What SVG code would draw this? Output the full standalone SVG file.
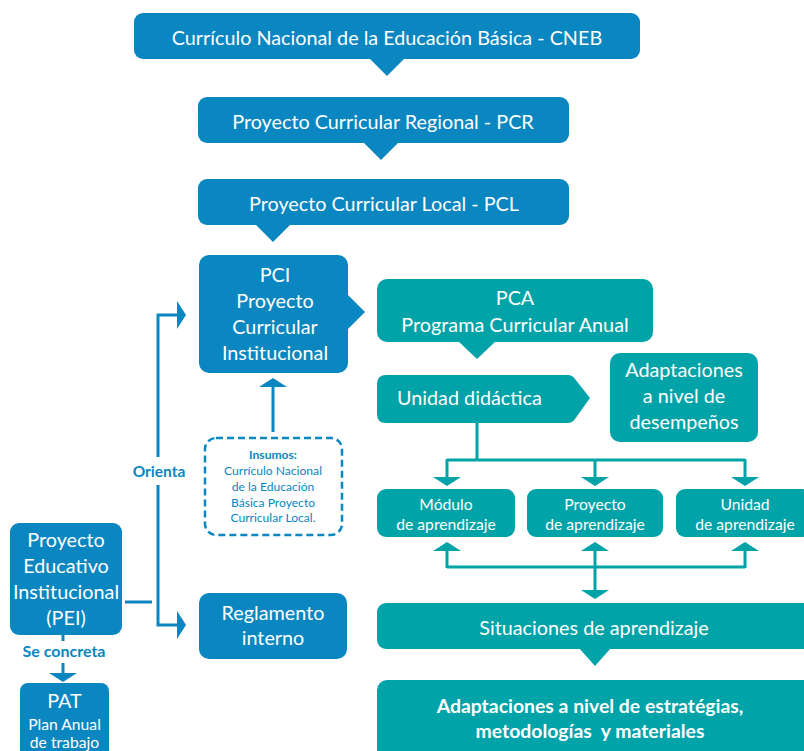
<svg xmlns="http://www.w3.org/2000/svg" width="804" height="751" viewBox="0 0 804 751">
<style>
.b{fill:#0A86C0}
.t{fill:#00A3A8}
.tx{fill:#fff;font-family:Lato,"Open Sans",sans-serif;font-size:19.8px;text-anchor:middle}
.sm{font-size:15.7px}
.bd{font-weight:bold}
.lb{fill:none;stroke:#0A86C0;stroke-width:3}
.lt{fill:none;stroke:#00A3A8;stroke-width:3}
.bl{fill:#0A86C0;font-family:Lato,"Open Sans",sans-serif;text-anchor:middle}
.ins{font-size:12.1px}
</style>
<defs>
<marker id="ab" markerUnits="userSpaceOnUse" markerWidth="10" markerHeight="28" refX="0" refY="14" orient="auto"><path d="M0,0 L9,14 L0,28 z" fill="#0A86C0"/></marker>
<marker id="at" markerUnits="userSpaceOnUse" markerWidth="10" markerHeight="28" refX="0" refY="14" orient="auto"><path d="M0,0 L9,14 L0,28 z" fill="#00A3A8"/></marker>
</defs>
<rect width="804" height="751" fill="#fff"/>
<g id="connectors">
<path class="lb" d="M273,432 V387" marker-end="url(#ab)"/>
<path class="lb" d="M158,457 V315 H177" marker-end="url(#ab)"/>
<path class="lb" d="M158,485 V625 H177" marker-end="url(#ab)"/>
<path class="lb" d="M125,602 H152"/>
<path class="lb" d="M63,635 V641"/>
<path class="lb" d="M63,663 V673" marker-end="url(#ab)"/>
<path class="lt" d="M477,423 V460 M447,460 H745"/>
<path class="lt" d="M447,459 V477" marker-end="url(#at)"/>
<path class="lt" d="M595,459 V477" marker-end="url(#at)"/>
<path class="lt" d="M745,459 V477" marker-end="url(#at)"/>
<path class="lt" d="M447,568 V551" marker-end="url(#at)"/>
<path class="lt" d="M745,568 V551" marker-end="url(#at)"/>
<path class="lt" d="M447,567 H745 M595,567 V551" marker-end="url(#at)"/>
<path class="lt" d="M595,567 V590" marker-end="url(#at)"/>
<text class="bl bd" x="159" y="477" font-size="15.5">Orienta</text>
<text class="bl bd" x="64" y="657" font-size="16">Se concreta</text>
</g>
<g id="cneb">
<rect class="b" x="134" y="13" width="506" height="46" rx="9"/>
<polygon class="b" points="369,58 405,58 387,76"/>
<text class="tx" x="387" y="45">Currículo Nacional de la Educación Básica - CNEB</text>
</g>
<g id="pcr">
<rect class="b" x="198" y="97" width="371" height="46" rx="9"/>
<polygon class="b" points="363,142 399,142 381,160"/>
<text class="tx" x="383" y="129">Proyecto Curricular Regional - PCR</text>
</g>
<g id="pcl">
<rect class="b" x="198" y="179" width="371" height="46" rx="9"/>
<polygon class="b" points="255,224 291,224 273,242"/>
<text class="tx" x="384" y="211">Proyecto Curricular Local - PCL</text>
</g>
<g id="pci">
<rect class="b" x="199" y="255" width="149" height="118" rx="10"/>
<polygon class="b" points="346,293 365,312 346,331"/>
<text class="tx" x="275" y="282">PCI</text>
<text class="tx" x="275" y="308">Proyecto</text>
<text class="tx" x="275" y="334">Curricular</text>
<text class="tx" x="275" y="360">Institucional</text>
</g>
<g id="insumos">
<rect x="205" y="438" width="137" height="97" rx="11" fill="none" stroke="#0A86C0" stroke-width="2.5" stroke-dasharray="7,4"/>
<text class="bl bd ins" x="273" y="459">Insumos:</text>
<text class="bl ins" x="273" y="475">Currículo Nacional</text>
<text class="bl ins" x="273" y="491">de la Educación</text>
<text class="bl ins" x="273" y="507">Básica Proyecto</text>
<text class="bl ins" x="273" y="522">Curricular Local.</text>
</g>
<g id="pei">
<rect class="b" x="10" y="523" width="112" height="112" rx="9"/>
<text class="tx" x="66" y="547">Proyecto</text>
<text class="tx" x="66" y="573">Educativo</text>
<text class="tx" x="66" y="599">Institucional</text>
<text class="tx" x="66" y="625">(PEI)</text>
</g>
<g id="reglamento">
<rect class="b" x="199" y="593" width="148" height="66" rx="10"/>
<text class="tx" x="273" y="620">Reglamento</text>
<text class="tx" x="273" y="645">interno</text>
</g>
<g id="pat">
<rect class="b" x="20" y="683" width="89" height="80" rx="8"/>
<text class="tx" x="64.5" y="708">PAT</text>
<text class="tx sm" x="64.5" y="730">Plan Anual</text>
<text class="tx sm" x="64.5" y="748">de trabajo</text>
</g>
<g id="pca">
<rect class="t" x="377" y="279" width="276" height="63" rx="10"/>
<polygon class="t" points="458,341 496,341 477,359"/>
<text class="tx" x="515" y="305">PCA</text>
<text class="tx" x="515" y="332">Programa Curricular Anual</text>
</g>
<g id="unidad-didactica">
<path class="t" d="M386,375 H568 Q572,375 575,379 L590,398 L575,419 Q572,423 568,423 H386 Q377,423 377,414 V384 Q377,375 386,375 Z"/>
<text class="tx" x="397" y="405" style="text-anchor:start">Unidad didáctica</text>
</g>
<g id="adapt-desempenos">
<rect class="t" x="610" y="353" width="148" height="89" rx="10"/>
<text class="tx" x="684" y="377">Adaptaciones</text>
<text class="tx" x="684" y="403">a nivel de</text>
<text class="tx" x="684" y="429">desempeños</text>
</g>
<g id="modulo">
<rect class="t" x="377" y="489" width="138" height="48" rx="9"/>
<text class="tx sm" x="446" y="510">Módulo</text>
<text class="tx sm" x="446" y="530">de aprendizaje</text>
</g>
<g id="proyecto">
<rect class="t" x="527" y="489" width="136" height="48" rx="9"/>
<text class="tx sm" x="595" y="510">Proyecto</text>
<text class="tx sm" x="595" y="530">de aprendizaje</text>
</g>
<g id="unidad">
<rect class="t" x="676" y="489" width="135" height="48" rx="9"/>
<text class="tx sm" x="745" y="510">Unidad</text>
<text class="tx sm" x="745" y="530">de aprendizaje</text>
</g>
<g id="situaciones">
<rect class="t" x="377" y="603" width="437" height="46" rx="9"/>
<polygon class="t" points="579,648 611,648 595,666"/>
<text class="tx" x="594" y="635">Situaciones de aprendizaje</text>
</g>
<g id="adapt-estrategias">
<rect class="t" x="377" y="680" width="437" height="85" rx="10"/>
<text class="tx bd" x="590" y="713" font-size="19.4" style="font-size:19.4px">Adaptaciones a nivel de estratégias,</text>
<text class="tx bd" x="590" y="738" style="font-size:19.4px;white-space:pre">metodologías  y materiales</text>
</g>
</svg>
